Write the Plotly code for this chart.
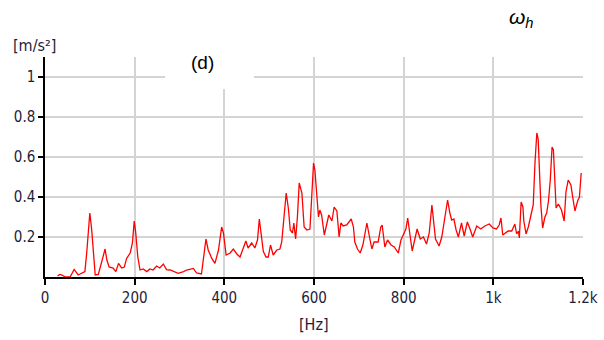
import plotly.graph_objects as go

freq_hz = [28, 33, 38, 45, 56, 65, 74, 82, 89, 93, 97, 100, 104, 108, 112, 119, 126, 134, 138, 143,
           152, 158, 164, 171, 177, 182, 190, 195, 199, 202, 207, 212, 219, 227, 234, 241, 249, 256, 264, 271,
           279, 290, 297, 309, 316, 331, 338, 349, 353, 359, 364, 372, 379, 387, 394, 398, 404, 413, 420, 428,
           435, 442, 448, 453, 461, 468, 474, 478, 483, 487, 493, 498, 503, 509, 517, 524, 528, 532, 538, 543,
           547, 552, 555, 559, 563, 567, 573, 578, 584, 591, 595, 599, 602, 606, 610, 613, 617, 623, 628, 633,
           640, 645, 651, 656, 660, 665, 673, 683, 688, 691, 697, 703, 709, 714, 718, 723, 729, 734, 743, 749,
           752, 758, 764, 772, 779, 788, 794, 799, 805, 809, 814, 819, 825, 830, 837, 844, 851, 857, 863, 867,
           871, 879, 885, 891, 898, 903, 907, 912, 917, 922, 929, 935, 942, 948, 954, 963, 972, 981, 991, 999,
           1007, 1013, 1017, 1021, 1026, 1033, 1041, 1048, 1052, 1056, 1058, 1062, 1066, 1068, 1073, 1078, 1083, 1089, 1093, 1097,
           1100, 1103, 1106, 1110, 1115, 1119, 1123, 1127, 1131, 1134, 1138, 1140, 1145, 1152, 1158, 1162, 1167, 1173, 1177, 1182,
           1188, 1192, 1196]
accel = [0.005, 0.013, 0.01, 0.0, 0.0, 0.038, 0.01, 0.02, 0.027, 0.12, 0.22, 0.32, 0.24, 0.10, 0.01, 0.013, 0.077, 0.14, 0.085, 0.05,
         0.045, 0.027, 0.068, 0.045, 0.05, 0.093, 0.12, 0.17, 0.28, 0.23, 0.10, 0.035, 0.04, 0.027, 0.04, 0.035, 0.055, 0.045, 0.065, 0.037,
         0.035, 0.027, 0.018, 0.027, 0.035, 0.043, 0.02, 0.015, 0.085, 0.19, 0.135, 0.093, 0.068, 0.135, 0.25, 0.22, 0.11, 0.12, 0.14, 0.115,
         0.10, 0.14, 0.18, 0.145, 0.17, 0.145, 0.185, 0.29, 0.20, 0.127, 0.10, 0.10, 0.16, 0.11, 0.135, 0.14, 0.175, 0.28, 0.42, 0.34,
         0.235, 0.22, 0.27, 0.19, 0.30, 0.47, 0.42, 0.25, 0.235, 0.24, 0.385, 0.57, 0.535, 0.40, 0.30, 0.335, 0.31, 0.21, 0.27, 0.31,
         0.28, 0.35, 0.33, 0.20, 0.27, 0.255, 0.26, 0.29, 0.25, 0.175, 0.14, 0.12, 0.16, 0.235, 0.27, 0.21, 0.14, 0.175, 0.175, 0.25,
         0.26, 0.15, 0.185, 0.16, 0.15, 0.12, 0.185, 0.21, 0.24, 0.295, 0.20, 0.13, 0.19, 0.24, 0.19, 0.20, 0.165, 0.22, 0.36, 0.285,
         0.19, 0.155, 0.20, 0.285, 0.385, 0.32, 0.285, 0.29, 0.235, 0.20, 0.27, 0.205, 0.275, 0.24, 0.20, 0.255, 0.24, 0.255, 0.265, 0.245,
         0.24, 0.26, 0.295, 0.21, 0.22, 0.23, 0.23, 0.265, 0.215, 0.23, 0.195, 0.375, 0.35, 0.28, 0.215, 0.25, 0.30, 0.36, 0.575, 0.72,
         0.69, 0.535, 0.36, 0.245, 0.30, 0.32, 0.38, 0.485, 0.65, 0.635, 0.45, 0.345, 0.365, 0.335, 0.28, 0.425, 0.485, 0.46, 0.40, 0.33,
         0.38, 0.40, 0.52]

x_tickvals = [0, 200, 400, 600, 800, 1000, 1200]
x_ticktext = ["0", "200", "400", "600", "800", "1k", "1.2k"]
y_tickvals = [0.2, 0.4, 0.6, 0.8, 1.0]
y_ticktext = ["0.2", "0.4", "0.6", "0.8", "1"]

tick_font = dict(family="DejaVu Sans Condensed, sans-serif", size=15, color="#1e1e38")

fig = go.Figure()
fig.add_trace(go.Scatter(x=freq_hz, y=accel, mode="lines",
                         line=dict(color="#ff0000", width=1.3), showlegend=False, hoverinfo="skip"))

fig.update_layout(
    width=604, height=340,
    margin=dict(l=45, r=21, t=57, b=63),
    paper_bgcolor="white", plot_bgcolor="white",
    xaxis=dict(range=[0, 1200], tickvals=x_tickvals, ticktext=x_ticktext,
               showgrid=True, gridcolor="#d4d4d4", gridwidth=2,
               showline=True, linecolor="black", linewidth=2,
               ticks="outside", ticklen=6, tickcolor="black", tickwidth=1.5,
               tickfont=tick_font, zeroline=False, automargin=False),
    yaxis=dict(range=[0, 1.1], tickvals=y_tickvals, ticktext=y_ticktext,
               showgrid=True, gridcolor="#d4d4d4", gridwidth=2,
               showline=True, linecolor="black", linewidth=1.5,
               ticks="outside", ticklen=5, tickcolor="black", tickwidth=1.5,
               tickfont=tick_font, zeroline=False, automargin=False),
)

# white box behind the "(d)" label that interrupts the grid
fig.add_shape(type="rect", xref="x", yref="y", x0=268, x1=466, y0=0.94, y1=1.1,
              fillcolor="white", line=dict(width=0), layer="above")

fig.add_annotation(text="[m/s²]", xref="paper", yref="paper", x=-0.02, y=1.05,
                   xanchor="center", yanchor="middle", showarrow=False,
                   font=dict(family="DejaVu Sans Condensed, sans-serif", size=16, color="#1e1e38"))
fig.add_annotation(text="[Hz]", xref="x", yref="paper", x=600, y=-0.215,
                   xanchor="center", yanchor="middle", showarrow=False,
                   font=dict(family="DejaVu Sans Condensed, sans-serif", size=16, color="#1e1e38"))
fig.add_annotation(text="(d)", xref="x", yref="paper", x=352, y=0.977,
                   xanchor="center", yanchor="middle", showarrow=False,
                   font=dict(family="Liberation Sans, Arial, sans-serif", size=19, color="black"))
fig.add_annotation(text="<i>ω<sub>h</sub></i>", xref="x", yref="paper", x=1062, y=1.175,
                   xanchor="center", yanchor="middle", showarrow=False,
                   font=dict(family="Liberation Sans, Arial, sans-serif", size=21, color="black"))

fig.write_html("out.html")
